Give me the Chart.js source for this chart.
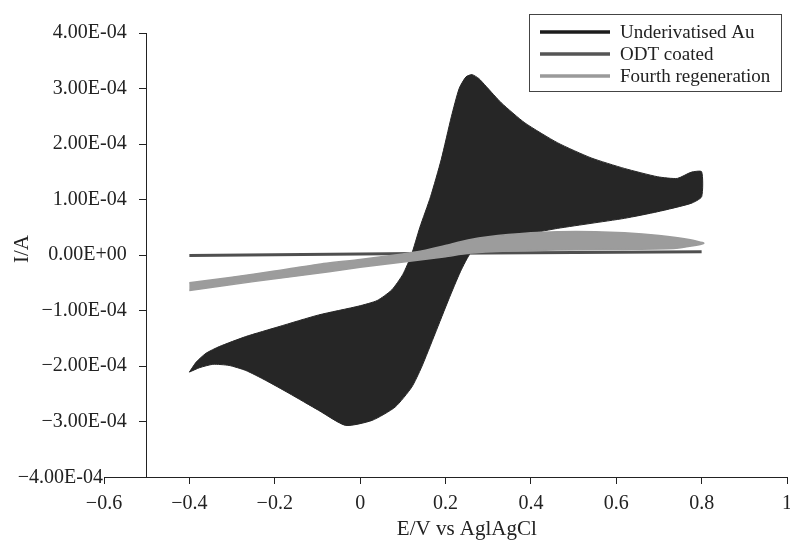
<!DOCTYPE html>
<html>
<head>
<meta charset="utf-8">
<title>Cyclic voltammograms</title>
<script src="https://cdn.jsdelivr.net/npm/chart.js@4.4.1/dist/chart.umd.min.js"></script>
<style>
  html, body { margin: 0; padding: 0; background: #fff; overflow: hidden; }
  canvas { display: block; }
</style>
</head>
<body>
<canvas id="cv" width="800" height="540"></canvas>
<script>
// Potentials in V vs Ag|AgCl, currents in units of 1E-04 A.
// Each loop runs along the forward sweep and back along the reverse sweep.
const auPotential = [
  -0.4, -0.384, -0.361, -0.33, -0.268, -0.19, -0.097, -0.003, 0.04, 0.074,
  0.1, 0.12, 0.14, 0.165, 0.19, 0.214, 0.232, 0.248, 0.262, 0.278,
  0.295, 0.331, 0.386, 0.463, 0.541, 0.619, 0.697, 0.743, 0.775, 0.8,
  0.8, 0.775, 0.697, 0.619, 0.541, 0.463, 0.4, 0.34, 0.29, 0.26,
  0.235, 0.207, 0.176, 0.144, 0.121, 0.082, 0.028, -0.034, -0.097, -0.167,
  -0.221, -0.268, -0.307, -0.345, -0.376, -0.4
];
const auCurrent = [
  -2.11, -1.93, -1.77, -1.65, -1.47, -1.29, -1.08, -0.92, -0.82, -0.63,
  -0.35, 0.0, 0.5, 1.05, 1.72, 2.5, 3.0, 3.21, 3.25, 3.18,
  3.04, 2.74, 2.38, 2.02, 1.75, 1.56, 1.41, 1.38, 1.49, 1.5,
  1.05, 0.93, 0.78, 0.66, 0.57, 0.48, 0.39, 0.29, 0.18, 0.05,
  -0.3, -0.81, -1.41, -2.02, -2.38, -2.74, -2.98, -3.07, -2.8, -2.49,
  -2.26, -2.08, -1.99, -1.97, -2.03, -2.11
];

const odtPotential = [-0.4, 0.2, 0.8];
const odtCurrent = [-0.01, 0.03, 0.06];

const regenPotential = [
  -0.4, -0.3, -0.2, -0.1, 0, 0.1, 0.15, 0.2, 0.253, 0.3,
  0.4, 0.463, 0.55, 0.619, 0.7, 0.77, 0.805,
  0.74, 0.62, 0.46, 0.35, 0.253, 0.2, 0.106, 0, -0.073,
  -0.2, -0.3, -0.4
];
const regenCurrent = [
  -0.5, -0.4, -0.29, -0.17, -0.08, 0.02, 0.08, 0.17, 0.27, 0.33,
  0.4, 0.42, 0.42, 0.4, 0.35, 0.28, 0.21,
  0.12, 0.1, 0.09, 0.07, 0.03, -0.03, -0.12, -0.22, -0.3,
  -0.43, -0.53, -0.64
];

const seriesNames = ['Underivatised Au', 'ODT coated', 'Fourth regeneration'];
const seriesColors = ['#262626', '#4f4f4f', '#9c9c9c'];
const legendColors = ['#1c1c1c', '#555555', '#9a9a9a'];

const xTicks = [-0.6, -0.4, -0.2, 0, 0.2, 0.4, 0.6, 0.8, 1];
const yTicks = [-4, -3, -2, -1, 0, 1, 2, 3, 4];
const CURRENT_UNIT = 1e-4;

const SERIF = '"Liberation Serif", "DejaVu Serif", serif';
const FONT_SIZE = 19;
const TICK_SIZE = 20;
const TITLE_SIZE = 21;

function toPoints(xs, ys) {
  return xs.map((v, i) => ({ x: v, y: ys[i] * CURRENT_UNIT }));
}

// leading sign only, exponent keeps its hyphen
function minus(s) {
  return s.charAt(0) === '-' ? '\u2212' + s.slice(1) : s;
}

function formatPotential(v) {
  const r = Math.round(v * 10) / 10;
  return minus(String(r === 0 ? 0 : r));
}

function formatCurrent(v) {
  const m = Math.round(v / CURRENT_UNIT * 100) / 100;
  if (m === 0) return '0.00E+00';
  return minus(m.toFixed(2) + 'E-04');
}

// Legend box, axis titles and the bottom current label (it sits where the axes meet)
const cvDecor = {
  id: 'cvDecor',
  afterDraw(chart) {
    const { ctx, scales } = chart;
    const xs = scales.x, ys = scales.y;
    ctx.save();
    ctx.fillStyle = '#222';

    ctx.font = TICK_SIZE + 'px ' + SERIF;
    ctx.textAlign = 'right';
    ctx.textBaseline = 'middle';
    ctx.fillText(formatCurrent(yTicks[0] * CURRENT_UNIT), xs.getPixelForValue(xTicks[0]) - 1,
      ys.getPixelForValue(yTicks[0] * CURRENT_UNIT) + 1);

    ctx.font = TITLE_SIZE + 'px ' + SERIF;
    ctx.textAlign = 'center';
    ctx.fillText('E/V vs AglAgCl', xs.getPixelForValue(0.25), 529);

    ctx.save();
    ctx.translate(22, 249);
    ctx.rotate(-Math.PI / 2);
    ctx.fillText('I/A', 0, 0);
    ctx.restore();

    // legend
    ctx.font = FONT_SIZE + 'px ' + SERIF;
    ctx.strokeStyle = '#444';
    ctx.lineWidth = 1;
    ctx.strokeRect(529.5, 14.5, 252, 77);
    const rows = [32, 54, 76];
    ctx.textAlign = 'left';
    chart.data.datasets.forEach((ds, i) => {
      ctx.strokeStyle = legendColors[i];
      ctx.lineWidth = 3.5;
      ctx.beginPath();
      ctx.moveTo(540, rows[i]);
      ctx.lineTo(610, rows[i]);
      ctx.stroke();
      ctx.fillText(ds.label, 620, rows[i] + 1);
    });
    ctx.restore();
  }
};

new Chart(document.getElementById('cv'), {
  type: 'scatter',
  data: {
    datasets: [
      {
        label: seriesNames[0],
        data: toPoints(auPotential, auCurrent),
        showLine: true,
        fill: 'shape',
        backgroundColor: seriesColors[0],
        borderColor: seriesColors[0],
        borderWidth: 1,
        tension: 0.2,
        pointRadius: 0,
        order: 3
      },
      {
        label: seriesNames[1],
        data: toPoints(odtPotential, odtCurrent),
        showLine: true,
        fill: false,
        borderColor: seriesColors[1],
        borderWidth: 3,
        tension: 0,
        pointRadius: 0,
        order: 2
      },
      {
        label: seriesNames[2],
        data: toPoints(regenPotential, regenCurrent),
        showLine: true,
        fill: 'shape',
        backgroundColor: seriesColors[2],
        borderColor: seriesColors[2],
        borderWidth: 1.5,
        tension: 0.2,
        pointRadius: 0,
        order: 1
      }
    ]
  },
  options: {
    responsive: false,
    animation: false,
    devicePixelRatio: 1,
    layout: { padding: { left: 104, right: 10, top: 33, bottom: 0 } },
    plugins: {
      legend: { display: false },
      tooltip: { enabled: false }
    },
    scales: {
      x: {
        type: 'linear',
        position: 'bottom',
        min: -0.6,
        max: 1,
        afterFit: (scale) => { scale.height = 63; },
        afterBuildTicks: (scale) => { scale.ticks = xTicks.map(v => ({ value: v })); },
        grid: { display: true, drawOnChartArea: false, drawTicks: true, tickLength: 7, color: '#222' },
        border: { display: true, color: '#222', width: 1 },
        ticks: {
          padding: 8,
          color: '#222',
          font: { family: SERIF, size: TICK_SIZE },
          maxRotation: 0,
          autoSkip: false,
          callback: (v) => formatPotential(v)
        }
      },
      y: {
        type: 'linear',
        position: { x: -0.5 },
        min: -4e-4,
        max: 4e-4,
        afterBuildTicks: (scale) => { scale.ticks = yTicks.map(v => ({ value: v * CURRENT_UNIT })); },
        grid: { display: true, drawOnChartArea: false, drawTicks: true, tickLength: 7, color: '#222' },
        border: { display: true, color: '#222', width: 1 },
        ticks: {
          color: '#222',
          font: { family: SERIF, size: TICK_SIZE },
          autoSkip: false,
          // an axis placed at a data value gets no label padding, so an em space keeps the gap
          callback: (v) => (v <= yTicks[0] * CURRENT_UNIT + 1e-9 ? '' : formatCurrent(v) + '\u2003')
        }
      }
    }
  },
  plugins: [cvDecor]
});
</script>
</body>
</html>
